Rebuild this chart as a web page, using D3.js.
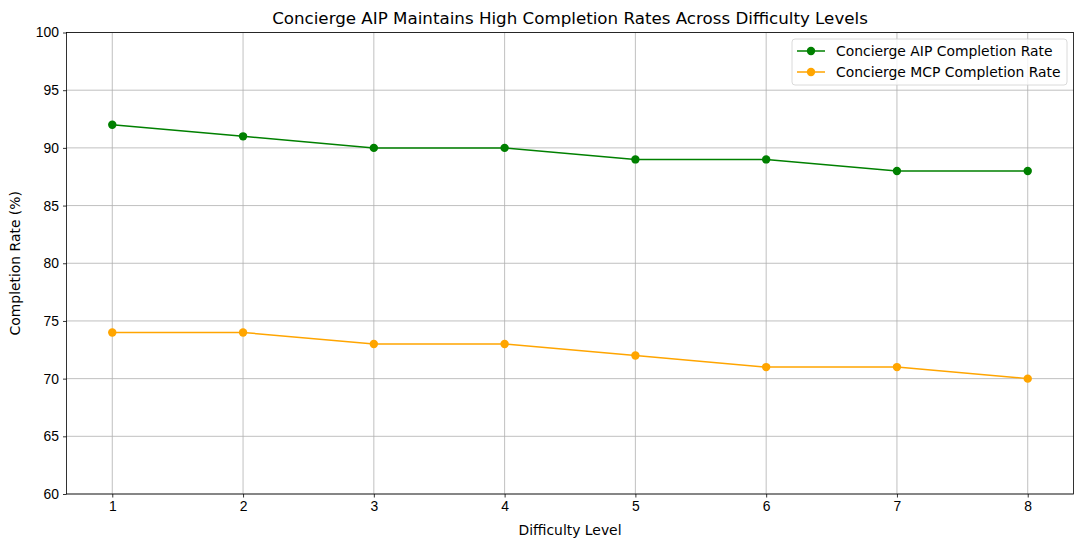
<!DOCTYPE html>
<html lang="en">
<head>
<meta charset="UTF-8">
<title>Concierge AIP Completion Rates</title>
<script src="https://cdnjs.cloudflare.com/ajax/libs/d3/7.8.5/d3.min.js"></script>
<style>
    body { margin: 0; padding: 0; background: #fff; }
    svg { display: block; font-family: "DejaVu Sans", sans-serif; }
    .tick text { font-size: 13.9px; fill: #000; }
</style>
</head>
<body>
<div id="chart"></div>
<script>
    // data
    const levels = [1, 2, 3, 4, 5, 6, 7, 8];
    const aipRate = [92, 91, 90, 90, 89, 89, 88, 88];
    const mcpRate = [74, 74, 73, 73, 72, 71, 71, 70];
    const yTicks = [60, 65, 70, 75, 80, 85, 90, 95, 100];
    const seriesNames = ["Concierge AIP Completion Rate", "Concierge MCP Completion Rate"];
    const seriesColors = ["green", "orange"];

    const width = 1083, height = 547;
    const margin = {top: 32.5, right: 9.5, bottom: 53, left: 66.5};
    const innerW = width - margin.left - margin.right;
    const innerH = height - margin.top - margin.bottom;

    const svg = d3.select("#chart").append("svg")
        .attr("width", width)
        .attr("height", height);

    const g = svg.append("g")
        .attr("transform", `translate(${margin.left},${margin.top})`);

    const x = d3.scaleLinear().domain([0.65, 8.35]).range([0, innerW]);
    const y = d3.scaleLinear().domain([60, 100]).range([innerH, 0]);

    // grid
    g.append("g").selectAll("line").data(levels).enter().append("line")
        .attr("x1", d => x(d)).attr("x2", d => x(d))
        .attr("y1", 0).attr("y2", innerH)
        .attr("stroke", "#b0b0b0").attr("stroke-width", 0.8);
    g.append("g").selectAll("line").data(yTicks).enter().append("line")
        .attr("x1", 0).attr("x2", innerW)
        .attr("y1", d => y(d)).attr("y2", d => y(d))
        .attr("stroke", "#b0b0b0").attr("stroke-width", 0.8);

    // axes
    const xAxis = g.append("g")
        .attr("transform", `translate(0,${innerH})`)
        .call(d3.axisBottom(x).tickValues(levels).tickSize(3.5).tickPadding(4).tickFormat(d3.format("d")));
    const yAxis = g.append("g")
        .call(d3.axisLeft(y).tickValues(yTicks).tickSize(3.5).tickPadding(4));
    [xAxis, yAxis].forEach(a => {
        a.select(".domain").remove();
        a.selectAll(".tick line").attr("stroke", "#000").attr("stroke-width", 0.8);
    });

    // frame
    g.append("rect")
        .attr("width", innerW).attr("height", innerH)
        .attr("fill", "none").attr("stroke", "#000").attr("stroke-width", 0.8);

    // lines
    const line = d3.line().x((d, i) => x(levels[i])).y(d => y(d));
    [aipRate, mcpRate].forEach((vals, s) => {
        g.append("path").datum(vals)
            .attr("d", line)
            .attr("fill", "none")
            .attr("stroke", seriesColors[s])
            .attr("stroke-width", 1.5);
        g.append("g").selectAll("circle").data(vals).enter().append("circle")
            .attr("cx", (d, i) => x(levels[i]))
            .attr("cy", d => y(d))
            .attr("r", 4.2)
            .attr("fill", seriesColors[s]);
    });

    // title and labels
    svg.append("text")
        .attr("x", margin.left + innerW / 2).attr("y", 24)
        .attr("text-anchor", "middle")
        .attr("font-size", 16.7).text("Concierge AIP Maintains High Completion Rates Across Difficulty Levels");
    svg.append("text")
        .attr("x", margin.left + innerW / 2).attr("y", 535)
        .attr("text-anchor", "middle")
        .attr("font-size", 13.9).text("Difficulty Level");
    svg.append("text")
        .attr("transform", `translate(20,${margin.top + innerH / 2}) rotate(-90)`)
        .attr("text-anchor", "middle")
        .attr("font-size", 13.9).text("Completion Rate (%)");

    // legend
    const legend = svg.append("g").attr("transform", "translate(792,39)");
    legend.append("rect")
        .attr("width", 275).attr("height", 46).attr("rx", 3)
        .attr("fill", "rgba(255,255,255,0.8)")
        .attr("stroke", "#d0d0d0").attr("stroke-width", 0.8);
    seriesNames.forEach((name, i) => {
        const ly = 12 + i * 21;
        legend.append("line")
            .attr("x1", 5).attr("x2", 33).attr("y1", ly).attr("y2", ly)
            .attr("stroke", seriesColors[i]).attr("stroke-width", 1.5);
        legend.append("circle")
            .attr("cx", 19).attr("cy", ly).attr("r", 4.2)
            .attr("fill", seriesColors[i]);
        legend.append("text")
            .attr("x", 44).attr("y", ly + 5)
            .attr("font-size", 13.9).text(name);
    });
</script>
</body>
</html>
